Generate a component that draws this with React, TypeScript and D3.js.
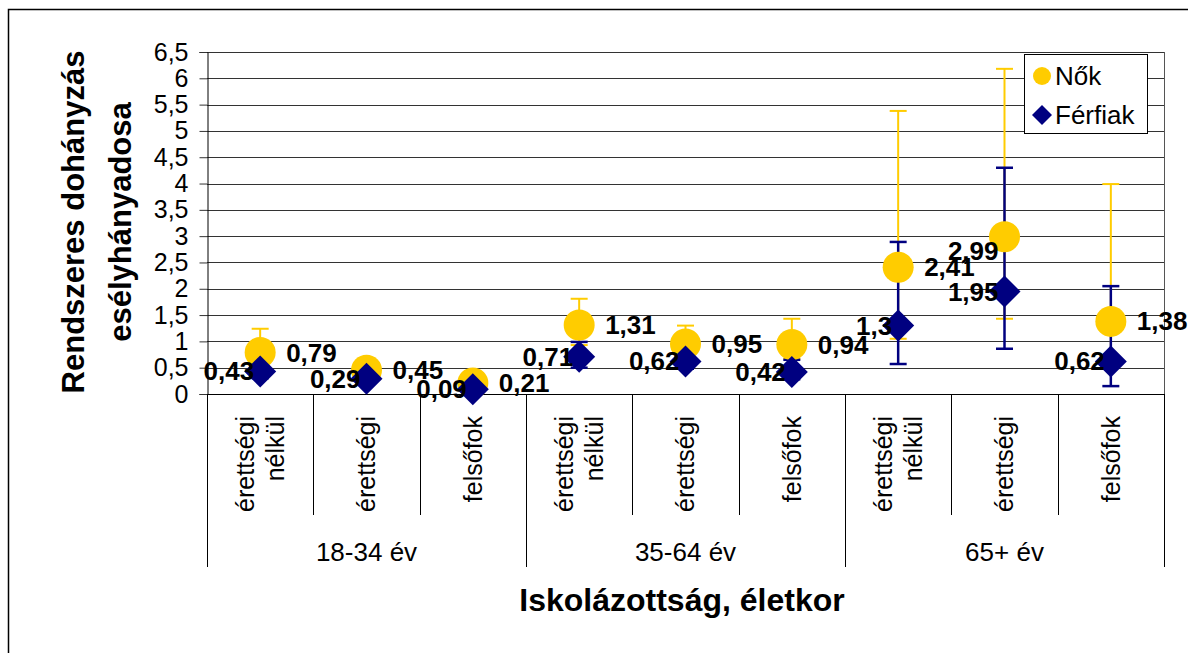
import React, { useEffect, useRef } from "react";
import * as d3 from "d3";

// age groups and school levels (x axis, two levels)
const ageGroups = ["18-34 év", "35-64 év", "65+ év"];
const schoolLevels = [["érettségi", "nélkül"], ["érettségi"], ["felsőfok"]];

// odds ratios with confidence interval ends
const nokValues = [0.79, 0.45, 0.21, 1.31, 0.95, 0.94, 2.41, 2.99, 1.38];
const nokUpper = [1.24, 0.62, 0.33, 1.81, 1.3, 1.43, 5.38, 6.18, 3.99];
const nokLower = [0.5, 0.32, 0.13, 0.93, 0.7, 0.67, 1.05, 1.43, 0.6];
const ferfiValues = [0.43, 0.29, 0.09, 0.71, 0.62, 0.42, 1.3, 1.95, 0.62];
const ferfiUpper = [0.6, 0.42, 0.2, 0.99, 0.78, 0.65, 2.89, 4.3, 2.05];
const ferfiLower = [0.3, 0.2, 0.04, 0.5, 0.48, 0.28, 0.57, 0.86, 0.15];
// which side the Nők label sits on
const nokLabelSide = ["r", "r", "r", "r", "r", "r", "r", "l", "r"];

const yTicks = d3.range(0, 14).map((i) => i * 0.5);

const YELLOW = "#FFCC00";
const NAVY = "#000080";
const FONT = "Arial, 'Liberation Sans', sans-serif";

const fmt = (v: number) => String(v).replace(".", ",");

const App: React.FC = () => {
  const svgRef = useRef<SVGSVGElement | null>(null);

  useEffect(() => {
    const width = 1188;
    const height = 653;
    const left = 207;
    const right = 1164;
    const top = 52;
    const bottom = 394;

    const svg = d3.select(svgRef.current);
    svg.selectAll("*").remove();
    svg.attr("width", width).attr("height", height).style("font-family", FONT);

    svg.append("rect").attr("width", width).attr("height", height).attr("fill", "#fff");
    // chart border (only top and left are inside the picture)
    svg
      .append("rect")
      .attr("x", 8.5)
      .attr("y", 9.5)
      .attr("width", 1200)
      .attr("height", 700)
      .attr("fill", "none")
      .attr("stroke", "#000")
      .attr("stroke-width", 1.5);

    const cats = ageGroups.flatMap((g, gi) => schoolLevels.map((_, si) => gi * schoolLevels.length + si));
    const x = d3
      .scaleBand<number>()
      .domain(cats)
      .range([left, right])
      .padding(0);
    const cx = (i: number) => (x(i) as number) + x.bandwidth() / 2;

    const y = d3.scaleLinear().domain([0, 6.5]).range([bottom, top]);

    // gridlines
    svg
      .append("g")
      .selectAll("line")
      .data(yTicks)
      .join("line")
      .attr("x1", left)
      .attr("x2", right)
      .attr("y1", (d) => Math.round(y(d)) + 0.5)
      .attr("y2", (d) => Math.round(y(d)) + 0.5)
      .attr("stroke", "#333")
      .attr("stroke-width", 1);

    // right border of plot area
    svg
      .append("line")
      .attr("x1", right + 0.5)
      .attr("x2", right + 0.5)
      .attr("y1", top)
      .attr("y2", 567)
      .attr("stroke", "#555");

    // y axis
    const gy = svg
      .append("g")
      .attr("transform", `translate(${left + 0.5},0)`)
      .call(
        d3
          .axisLeft(y)
          .tickValues(yTicks)
          .tickSize(8)
          .tickPadding(11)
          .tickFormat((d) => fmt(+d)),
      );
    gy.select(".domain").attr("stroke", "#000");
    gy.selectAll(".tick line").attr("stroke", "#333");
    gy.selectAll(".tick text")
      .attr("font-size", 25)
      .attr("font-family", FONT)
      .attr("fill", "#000");

    // category separators
    svg
      .append("g")
      .selectAll("line")
      .data(d3.range(cats.length + 1))
      .join("line")
      .attr("x1", (i) => Math.round(left + i * x.bandwidth()) + 0.5)
      .attr("x2", (i) => Math.round(left + i * x.bandwidth()) + 0.5)
      .attr("y1", bottom)
      .attr("y2", (i) => (i % schoolLevels.length === 0 ? 567 : 515))
      .attr("stroke", "#000");

    // x axis line
    svg
      .append("line")
      .attr("x1", left)
      .attr("x2", right)
      .attr("y1", bottom + 0.5)
      .attr("y2", bottom + 0.5)
      .attr("stroke", "#000");

    // category labels (rotated)
    cats.forEach((c) => {
      const lines = schoolLevels[c % schoolLevels.length];
      const lh = 30;
      lines.forEach((t, li) => {
        const lx = cx(c) + (li - (lines.length - 1) / 2) * lh;
        svg
          .append("text")
          .attr("transform", `translate(${lx},416) rotate(-90)`)
          .attr("text-anchor", "end")
          .attr("dy", "0.35em")
          .attr("font-size", 25)
          .text(t);
      });
    });

    // age group labels
    ageGroups.forEach((g, gi) => {
      const gx = left + (gi + 0.5) * schoolLevels.length * x.bandwidth();
      svg
        .append("text")
        .attr("x", gx)
        .attr("y", 561)
        .attr("text-anchor", "middle")
        .attr("font-size", 26)
        .text(g);
    });

    // error bars
    const drawErr = (upper: number[], lower: number[], color: string, w: number) => {
      const g = svg.append("g").attr("stroke", color).attr("stroke-width", w);
      cats.forEach((i) => {
        g.append("line")
          .attr("x1", cx(i))
          .attr("x2", cx(i))
          .attr("y1", y(upper[i]))
          .attr("y2", y(lower[i]));
        [upper[i], lower[i]].forEach((v) => {
          g.append("line")
            .attr("x1", cx(i) - 8.5)
            .attr("x2", cx(i) + 8.5)
            .attr("y1", y(v))
            .attr("y2", y(v));
        });
      });
    };
    drawErr(nokUpper, nokLower, YELLOW, 2);
    drawErr(ferfiUpper, ferfiLower, NAVY, 2.5);

    // markers
    svg
      .append("g")
      .selectAll("circle")
      .data(nokValues)
      .join("circle")
      .attr("cx", (_, i) => cx(i))
      .attr("cy", (d) => y(d))
      .attr("r", 15.5)
      .attr("fill", YELLOW);

    const diamond = (s: number) => `M0,${-s}L${s},0L0,${s}L${-s},0Z`;
    svg
      .append("g")
      .selectAll("path")
      .data(ferfiValues)
      .join("path")
      .attr("transform", (d, i) => `translate(${cx(i)},${y(d)})`)
      .attr("d", diamond(16))
      .attr("fill", NAVY);

    // data labels
    const labels = svg.append("g").attr("font-size", 26).attr("font-weight", "bold").attr("fill", "#000");
    nokValues.forEach((v, i) => {
      const onLeft = nokLabelSide[i] === "l";
      labels
        .append("text")
        .attr("x", onLeft ? cx(i) - 6 : cx(i) + 26)
        .attr("y", y(v) + (onLeft ? 14 : 0))
        .attr("dy", "0.35em")
        .attr("text-anchor", onLeft ? "end" : "start")
        .text(fmt(v));
    });
    ferfiValues.forEach((v, i) => {
      labels
        .append("text")
        .attr("x", cx(i) - 6)
        .attr("y", y(v))
        .attr("dy", "0.35em")
        .attr("text-anchor", "end")
        .text(fmt(v));
    });

    // axis titles
    const yTitle = svg
      .append("text")
      .attr("transform", "translate(95,222) rotate(-90)")
      .attr("text-anchor", "middle")
      .attr("font-size", 31)
      .attr("font-weight", "bold");
    yTitle.append("tspan").attr("x", 0).attr("dy", "-0.35em").text("Rendszeres dohányzás");
    yTitle.append("tspan").attr("x", 0).attr("dy", "1.5em").text("esélyhányadosa");

    svg
      .append("text")
      .attr("x", 682)
      .attr("y", 611)
      .attr("text-anchor", "middle")
      .attr("font-size", 32)
      .attr("font-weight", "bold")
      .text("Iskolázottság, életkor");

    // legend
    const lg = svg.append("g").attr("transform", "translate(1024,54)");
    lg.append("rect")
      .attr("x", 0.5)
      .attr("y", 0.5)
      .attr("width", 123)
      .attr("height", 79)
      .attr("fill", "#fff")
      .attr("stroke", "#000");
    lg.append("circle").attr("cx", 18).attr("cy", 22).attr("r", 9).attr("fill", YELLOW);
    lg.append("path").attr("transform", "translate(18,61)").attr("d", diamond(10)).attr("fill", NAVY);
    lg.append("text").attr("x", 31).attr("y", 22).attr("dy", "0.35em").attr("font-size", 26).text("Nők");
    lg.append("text").attr("x", 31).attr("y", 61).attr("dy", "0.35em").attr("font-size", 26).text("Férfiak");
  }, []);

  return (
    <div style={{ position: "absolute", left: 0, top: 0 }}>
      <svg ref={svgRef}></svg>
    </div>
  );
};

export default App;
